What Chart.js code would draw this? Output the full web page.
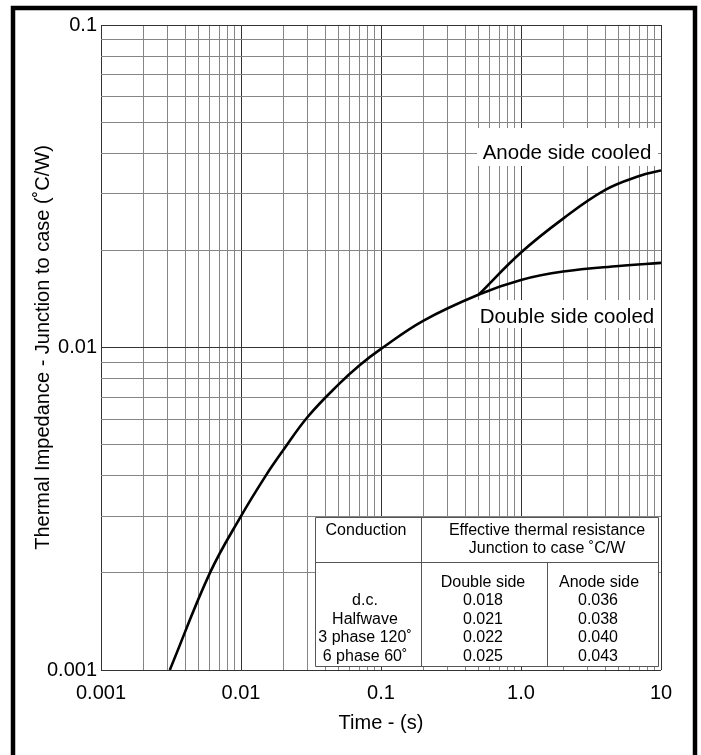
<!DOCTYPE html>
<html>
<head>
<meta charset="utf-8">
<script src="https://cdn.jsdelivr.net/npm/chart.js@4.4.1/dist/chart.umd.min.js"></script>
<style>
  html, body { margin: 0; padding: 0; background: #fff; }
  #wrap { width: 701px; height: 755px; position: relative; }
</style>
</head>
<body>
<div id="wrap"><canvas id="myChart"></canvas></div>
<script>
// values (time in s, Zth in C/W)
const timeDouble = [0.0031, 0.006, 0.01, 0.015, 0.02, 0.03, 0.05, 0.07, 0.1, 0.2, 0.5, 1, 2, 5, 10];
const zthDouble = [0.001, 0.002, 0.003, 0.004, 0.0048, 0.0061, 0.0077, 0.0088, 0.0099, 0.0121, 0.0146, 0.0162, 0.0172, 0.0179, 0.0183];
const timeAnode = [0.5, 1, 2, 4, 7, 10];
const zthAnode = [0.0146, 0.0197, 0.0251, 0.0308, 0.0340, 0.0354];

const xTickValues = [0.001, 0.01, 0.1, 1, 10];
const xTickLabels = ['0.001', '0.01', '0.1', '1.0', '10'];
const yTickValues = [0.001, 0.01, 0.1];
const yTickLabels = ['0.001', '0.01', '0.1'];

// table in the corner
const conductionRows = ['d.c.', 'Halfwave', '3 phase 120˚', '6 phase 60˚'];
const resDouble = ['0.018', '0.021', '0.022', '0.025'];
const resAnode = ['0.036', '0.038', '0.040', '0.043'];

const FONT = "'Liberation Sans', Arial, sans-serif";

function sameLog(a, b) {
    return Math.abs(Math.log10(a) - Math.log10(b)) < 1e-6;
}
function isDecade(v) {
    const l = Math.log10(v);
    return Math.abs(l - Math.round(l)) < 1e-6;
}
function logTicks(minExp, maxExp) {
    const out = [];
    for (let e = minExp; e < maxExp; e++) {
        for (let m = 1; m <= 9; m++) {
            out.push({ value: Number((m * Math.pow(10, e)).toPrecision(6)) });
        }
    }
    out.push({ value: Math.pow(10, maxExp) });
    return out;
}
function labelFor(values, labels) {
    return function(v) {
        for (let i = 0; i < values.length; i++) {
            if (sameLog(v, values[i])) return labels[i];
        }
        return '';
    };
}
function gridColor(ctx) {
    if (!ctx.tick) return '#888';
    return isDecade(ctx.tick.value) ? '#333' : '#858585';
}

const framePlugin = {
    id: 'frame',
    afterDraw(chart) {
        const ctx = chart.ctx;
        ctx.save();

        // curve labels with white boxes
        ctx.font = '20.5px ' + FONT;
        ctx.textAlign = 'center';
        ctx.textBaseline = 'middle';
        ctx.fillStyle = '#fff';
        ctx.fillRect(477, 128, 181, 38);
        ctx.fillRect(476, 300, 184, 28);
        ctx.fillStyle = '#000';
        ctx.fillText('Anode side cooled', 567, 153);
        ctx.fillText('Double side cooled', 567, 317);

        // resistance table
        const L = 315, R = 658, T = 517, B = 666, c1 = 421, c2 = 547, h = 562;
        ctx.fillStyle = '#fff';
        ctx.fillRect(L, T, R - L, B - T);
        ctx.strokeStyle = '#555';
        ctx.lineWidth = 1;
        ctx.beginPath();
        ctx.rect(L + 0.5, T + 0.5, R - L, B - T);
        ctx.moveTo(c1 + 0.5, T); ctx.lineTo(c1 + 0.5, B);
        ctx.moveTo(L, h + 0.5); ctx.lineTo(R, h + 0.5);
        ctx.moveTo(c2 + 0.5, h); ctx.lineTo(c2 + 0.5, B);
        ctx.stroke();

        ctx.fillStyle = '#000';
        ctx.font = '16px ' + FONT;
        ctx.fillText('Conduction', 366, 531);
        ctx.fillText('Effective thermal resistance', 547, 531);
        ctx.fillText('Junction to case ˚C/W', 547, 549);
        ctx.fillText('Double side', 483, 583);
        ctx.fillText('Anode side', 599, 583);
        conductionRows.forEach(function(r, i) {
            const y = 601 + i * 18.5;
            ctx.fillText(r, 365, y);
            ctx.fillText(resDouble[i], 483, y);
            ctx.fillText(resAnode[i], 598, y);
        });

        // outer black frame
        ctx.strokeStyle = '#000';
        ctx.lineWidth = 4.5;
        ctx.strokeRect(13, 8, 682, 760);
        ctx.restore();
    }
};

const ctx = document.getElementById('myChart').getContext('2d');
const chart = new Chart(ctx, {
    type: 'line',
    data: {
        datasets: [{
            label: 'Double side cooled',
            data: timeDouble.map((t, i) => ({ x: t, y: zthDouble[i] })),
            borderColor: '#000',
            borderWidth: 2.6,
            pointRadius: 0,
            tension: 0.4,
            fill: false
        }, {
            label: 'Anode side cooled',
            data: timeAnode.map((t, i) => ({ x: t, y: zthAnode[i] })),
            borderColor: '#000',
            borderWidth: 2.6,
            pointRadius: 0,
            tension: 0.4,
            fill: false
        }]
    },
    options: {
        responsive: true,
        maintainAspectRatio: false,
        animation: false,
        layout: { padding: { top: 25, right: 40, bottom: 0, left: 0 } },
        plugins: { legend: { display: false }, tooltip: { enabled: false } },
        scales: {
            x: {
                type: 'logarithmic',
                min: 0.001,
                max: 10,
                afterBuildTicks: s => { s.ticks = logTicks(-3, 1); },
                afterFit: s => { s.height = 85; },
                border: { display: false },
                grid: { color: gridColor, lineWidth: 1, drawTicks: false },
                ticks: {
                    autoSkip: false,
                    maxRotation: 0,
                    padding: 11,
                    color: '#000',
                    font: { family: FONT, size: 20 },
                    callback: labelFor(xTickValues, xTickLabels)
                },
                title: {
                    display: true,
                    text: 'Time - (s)',
                    color: '#000',
                    font: { family: FONT, size: 20 },
                    padding: { top: 0, bottom: 20 }
                }
            },
            y: {
                type: 'logarithmic',
                min: 0.001,
                max: 0.1,
                afterBuildTicks: s => { s.ticks = logTicks(-3, -1); },
                afterFit: s => { s.width = 101; },
                border: { display: false },
                grid: { color: gridColor, lineWidth: 1, drawTicks: false },
                ticks: {
                    autoSkip: false,
                    padding: 4,
                    color: '#000',
                    font: { family: FONT, size: 20 },
                    callback: labelFor(yTickValues, yTickLabels)
                },
                title: {
                    display: true,
                    text: 'Thermal Impedance - Junction to case (˚C/W)',
                    color: '#000',
                    font: { family: FONT, size: 20 },
                    padding: { top: 31, bottom: 0 }
                }
            }
        }
    },
    plugins: [framePlugin]
});
</script>
</body>
</html>
